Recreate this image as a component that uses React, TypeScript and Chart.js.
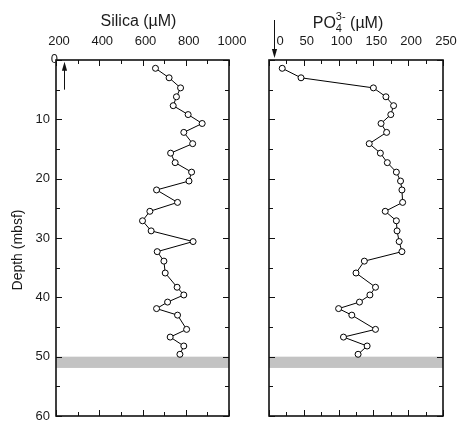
import React, { useEffect, useRef } from 'react';
import { Chart, registerables } from 'chart.js';

Chart.register(...registerables);

// ---------- data ----------
const depths = [
  1.4, 3.0, 4.7, 6.2, 7.7, 9.2, 10.7, 12.2, 14.1, 15.7, 17.3, 18.9, 20.4, 21.9, 24.0,
  25.5, 27.1, 28.8, 30.6, 32.3, 33.9, 35.9, 38.3, 39.6, 40.8, 41.9, 43.0, 45.4, 46.7, 48.2, 49.6,
];
const silica = [
  660, 723, 776, 757, 742, 811, 876, 791, 832, 730, 751, 827, 815, 665, 762,
  634, 600, 640, 834, 668, 699, 705, 760, 791, 716, 665, 762, 804, 728, 791, 773,
];
const phosphate = [
  19, 46, 150, 168, 179, 175, 161, 169, 144, 160, 170, 183, 189, 191, 192,
  167, 183, 184, 187, 191, 137, 125, 153, 145, 130, 100, 119, 153, 107, 141, 128,
];
const silicaTicks = [200, 400, 600, 800, 1000];
const phosphateTicks = [0, 50, 100, 150, 200, 250];
const depthTicks = [0, 10, 20, 30, 40, 50, 60];
const shadedBand = [50, 51.9];
const silicaArrow = [235, 5, 0.3]; // x value, depth from, depth to
const phosphateArrowX = 6.5;

// ---------- styles ----------
const FONT = "'Liberation Sans', Arial, Helvetica, sans-serif";
const TEXT = '#1a1a1a';
const LINE = '#111111';

function drawArrow(ctx: CanvasRenderingContext2D, x: number, y1: number, y2: number) {
  const dir = y2 < y1 ? -1 : 1;
  const headLen = 9;
  const headW = 2.6;
  ctx.save();
  ctx.strokeStyle = LINE;
  ctx.fillStyle = LINE;
  ctx.lineWidth = 1;
  ctx.beginPath();
  ctx.moveTo(x, y1);
  ctx.lineTo(x, y2 - dir * headLen * 0.6);
  ctx.stroke();
  ctx.beginPath();
  ctx.moveTo(x, y2);
  ctx.lineTo(x - headW, y2 - dir * headLen);
  ctx.lineTo(x + headW, y2 - dir * headLen);
  ctx.closePath();
  ctx.fill();
  ctx.restore();
}

function makeFramePlugin(xMinor: number, yMinor: number, extra: (chart: any) => void) {
  return {
    id: 'frameTicks',
    beforeDatasetsDraw(chart: any) {
      const { ctx, chartArea: a, scales } = chart;
      const y = scales.y;
      const t = y.getPixelForValue(shadedBand[0]);
      const b = y.getPixelForValue(shadedBand[1]);
      ctx.save();
      ctx.fillStyle = '#c3c3c3';
      ctx.fillRect(a.left, t, a.right - a.left, b - t);
      ctx.restore();
    },
    afterDatasetsDraw(chart: any) {
      const { ctx, chartArea: a, scales } = chart;
      const x = scales.x;
      const y = scales.y;
      ctx.save();
      ctx.strokeStyle = LINE;
      ctx.lineWidth = 1;
      ctx.beginPath();
      let i = 0;
      for (let v = x.min; v <= x.max + 1e-9; v += xMinor, i++) {
        const px = Math.round(x.getPixelForValue(v)) + 0.5;
        const len = i % 2 === 0 ? 6 : 4;
        ctx.moveTo(px, a.top);
        ctx.lineTo(px, a.top + len);
        ctx.moveTo(px, a.bottom);
        ctx.lineTo(px, a.bottom - len);
      }
      i = 0;
      for (let v = y.min; v <= y.max + 1e-9; v += yMinor, i++) {
        const py = Math.round(y.getPixelForValue(v)) + 0.5;
        const len = i % 2 === 0 ? 6 : 4;
        ctx.moveTo(a.left, py);
        ctx.lineTo(a.left + len, py);
        ctx.moveTo(a.right, py);
        ctx.lineTo(a.right - len, py);
      }
      ctx.stroke();
      ctx.lineWidth = 1.6;
      ctx.strokeRect(a.left, a.top, a.right - a.left, a.bottom - a.top);
      ctx.restore();
      extra(chart);
    },
  };
}

function baseDataset(values: number[]) {
  return {
    data: values.map((v, i) => ({ x: v, y: depths[i] })),
    showLine: true,
    borderColor: '#000',
    borderWidth: 1,
    pointRadius: 3,
    pointBorderWidth: 1,
    pointBackgroundColor: '#fff',
    pointBorderColor: '#000',
    clip: false as any,
  };
}

const tickFont = { family: FONT, size: 13 };

const fixX = (h: number) => (s: any) => {
  s.height = h;
  s.paddingLeft = 0;
  s.paddingRight = 0;
  s.paddingTop = 0;
  s.paddingBottom = 0;
};
const fixY = (w: number) => (s: any) => {
  s.width = w;
  s.paddingLeft = 0;
  s.paddingRight = 0;
  s.paddingTop = 0;
  s.paddingBottom = 0;
};

export default function App() {
  const leftRef = useRef<HTMLCanvasElement>(null);
  const rightRef = useRef<HTMLCanvasElement>(null);

  useEffect(() => {
    const leftExtra = (chart: any) => {
      const { ctx, chartArea: a, scales } = chart;
      const x = scales.x;
      const y = scales.y;
      ctx.save();
      ctx.fillStyle = TEXT;
      ctx.font = `16px ${FONT}`;
      ctx.textAlign = 'center';
      ctx.textBaseline = 'middle';
      ctx.fillText('Silica (µM)', (a.left + a.right) / 2 - 4, 22);
      ctx.save();
      ctx.translate(18, 250);
      ctx.rotate(-Math.PI / 2);
      ctx.font = `14px ${FONT}`;
      ctx.fillText('Depth (mbsf)', 0, 0);
      ctx.restore();
      ctx.font = `13px ${FONT}`;
      ctx.textAlign = 'right';
      ctx.fillText(String(depthTicks[0]), a.left + 2, y.getPixelForValue(depthTicks[0]) - 1);
      ctx.restore();
      drawArrow(
        ctx,
        Math.round(x.getPixelForValue(silicaArrow[0])) + 0.5,
        y.getPixelForValue(silicaArrow[1]),
        y.getPixelForValue(silicaArrow[2])
      );
    };

    const rightExtra = (chart: any) => {
      const { ctx, chartArea: a, scales } = chart;
      const x = scales.x;
      ctx.save();
      ctx.fillStyle = TEXT;
      ctx.textBaseline = 'alphabetic';
      const main = `16px ${FONT}`;
      const small = `11px ${FONT}`;
      ctx.font = main;
      const wPO = ctx.measureText('PO').width;
      const wTail = ctx.measureText(' (µM)').width;
      ctx.font = small;
      const w4 = ctx.measureText('4').width;
      const w3 = ctx.measureText('3-').width;
      const total = wPO + Math.max(w4, w3) + wTail;
      let cx = (a.left + a.right) / 2 - 8 - total / 2;
      const base = 28;
      ctx.font = main;
      ctx.textAlign = 'left';
      ctx.fillText('PO', cx, base);
      cx += wPO;
      ctx.font = small;
      ctx.fillText('4', cx, base + 4);
      ctx.fillText('3-', cx, base - 8);
      cx += Math.max(w4, w3);
      ctx.font = main;
      ctx.fillText(' (µM)', cx, base);
      ctx.font = `13px ${FONT}`;
      ctx.textAlign = 'center';
      ctx.textBaseline = 'middle';
      ctx.fillText(String(phosphateTicks[0]), x.getPixelForValue(phosphateTicks[0]) + 11, 41.5);
      ctx.restore();
      drawArrow(ctx, Math.round(x.getPixelForValue(phosphateArrowX)) + 0.5, 20, a.top - 2);
    };

    const left = new Chart(leftRef.current!, {
      type: 'scatter',
      data: { datasets: [baseDataset(silica) as any] },
      options: {
        responsive: false,
        animation: false,
        devicePixelRatio: 1,
        layout: { padding: { left: 0, right: 20, top: 0, bottom: 3 } },
        plugins: { legend: { display: false }, tooltip: { enabled: false } },
        scales: {
          x: {
            type: 'linear',
            position: 'top',
            min: silicaTicks[0],
            max: silicaTicks[silicaTicks.length - 1],
            afterBuildTicks: (s: any) => { s.ticks = silicaTicks.map((v) => ({ value: v })); },
            ticks: {
              font: tickFont,
              color: TEXT,
              padding: 11,
              labelOffset: 3,
              maxRotation: 0,
              autoSkip: false,
              callback: (v: any) => String(v),
            },
            grid: { display: false, drawTicks: false },
            border: { display: false },
            afterFit: fixX(60),
          },
          y: {
            type: 'linear',
            reverse: true,
            min: depthTicks[0],
            max: depthTicks[depthTicks.length - 1],
            afterBuildTicks: (s: any) => { s.ticks = depthTicks.map((v) => ({ value: v })); },
            ticks: {
              font: tickFont,
              color: TEXT,
              padding: 6,
              autoSkip: false,
              callback: (v: any) => (v === depthTicks[0] ? '' : String(v)),
            },
            grid: { display: false, drawTicks: false },
            border: { display: false },
            afterFit: fixY(56),
          },
        },
      },
      plugins: [makeFramePlugin(100, 5, leftExtra)],
    });

    const right = new Chart(rightRef.current!, {
      type: 'scatter',
      data: { datasets: [baseDataset(phosphate) as any] },
      options: {
        responsive: false,
        animation: false,
        devicePixelRatio: 1,
        layout: { padding: { left: 20, right: 19, top: 0, bottom: 3 } },
        plugins: { legend: { display: false }, tooltip: { enabled: false } },
        scales: {
          x: {
            type: 'linear',
            position: 'top',
            min: phosphateTicks[0],
            max: phosphateTicks[phosphateTicks.length - 1],
            afterBuildTicks: (s: any) => { s.ticks = phosphateTicks.map((v) => ({ value: v })); },
            ticks: {
              font: tickFont,
              color: TEXT,
              padding: 11,
              labelOffset: 3,
              maxRotation: 0,
              autoSkip: false,
              callback: (v: any) => (v === phosphateTicks[0] ? '' : String(v)),
            },
            grid: { display: false, drawTicks: false },
            border: { display: false },
            afterFit: fixX(60),
          },
          y: {
            type: 'linear',
            display: false,
            reverse: true,
            min: depthTicks[0],
            max: depthTicks[depthTicks.length - 1],
          },
        },
      },
      plugins: [makeFramePlugin(25, 5, rightExtra)],
    });

    return () => {
      left.destroy();
      right.destroy();
    };
  }, []);

  return (
    <div style={{ position: 'fixed', left: 0, top: 0, width: 462, height: 421, background: '#fff' }}>
      <canvas ref={leftRef} width={249} height={421} style={{ position: 'absolute', left: 0, top: 0 }} />
      <canvas ref={rightRef} width={213} height={421} style={{ position: 'absolute', left: 249, top: 0 }} />
    </div>
  );
}
